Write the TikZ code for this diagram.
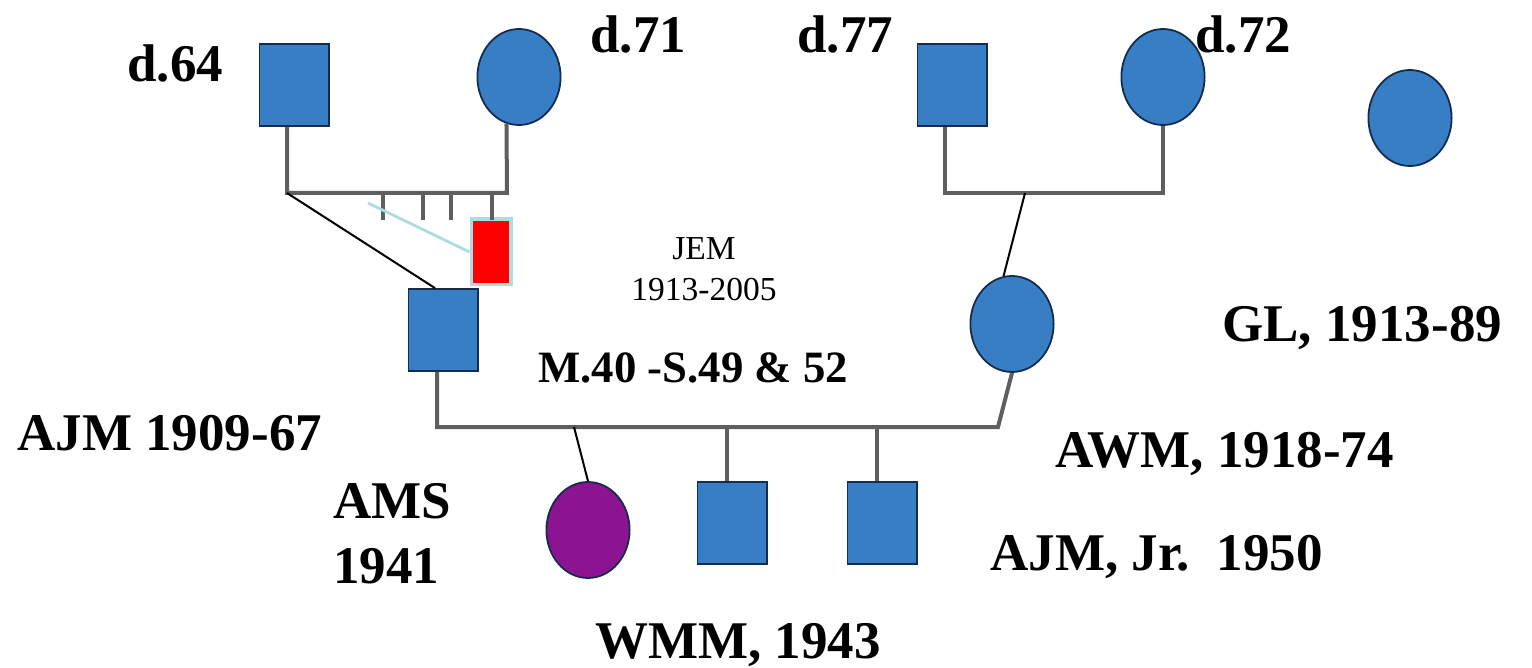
\documentclass[tikz,border=0pt]{standalone}
\usepackage{fontspec}
\setmainfont{Liberation Serif}
\usetikzlibrary{shapes.geometric}
\definecolor{pedblue}{RGB}{55,126,196}
\definecolor{pededge}{RGB}{22,44,78}
\definecolor{pedline}{RGB}{95,95,95}
\definecolor{pedpurple}{RGB}{140,20,145}
\definecolor{pedcyan}{RGB}{170,220,226}

\begin{document}
\begin{tikzpicture}[x=0.5pt,y=-0.5pt,
    male/.style={rectangle,draw=pededge,fill=pedblue,line width=0.9pt,minimum width=34.6pt,minimum height=41pt,inner sep=0pt},
    female/.style={ellipse,draw=pededge,fill=pedblue,line width=0.9pt,minimum width=41.6pt,minimum height=48pt,inner sep=0pt},
    famline/.style={pedline,line width=2pt},
    thinline/.style={black,line width=1pt},
    lbl/.style={font=\bfseries\fontsize{26.5}{30}\selectfont,inner sep=0pt,anchor=base west}]
\useasboundingbox (0,0) rectangle (1532,668);

% grandparents
\node[male] (gfa) at (294,85) {};
\node[female] (gma) at (519,77) {};
\node[male] (gfb) at (952,85) {};
\node[female] (gmb) at (1163,77) {};
\node[female] (gl) at (1410,118) {};

% parents
\node[male] (ajm) at (443,330) {};
\node[female] (awm) at (1012,324) {};
\node[rectangle,draw=pedcyan,fill=red,line width=1.6pt,minimum width=19.9pt,minimum height=32.9pt,inner sep=0pt] (jem) at (491,252) {};

% children
\node[female,fill=pedpurple] (ams) at (588,530) {};
\node[male] (wmm) at (732,523) {};
\node[male] (jr) at (882,523) {};

\coordinate (sibA) at (287,193);
\coordinate (sibAr) at (507,193);
\coordinate (cut) at (368,203);
\coordinate (sibB) at (945,193);
\coordinate (sibBr) at (1163,193);
\coordinate (sibBm) at (1025,193);
\coordinate (mar) at (437,427);
\coordinate (marr) at (998,427);
\coordinate (kid1) at (574,427);
\coordinate (kid2) at (727,427);
\coordinate (kid3) at (877,427);

\draw[famline] (gfa.south -| sibA) -- (sibA) -- (sibAr) -- (gma.-105);
\foreach \tx in {383,423,451,492}
    \draw[famline] (\tx,193) -- (\tx,220);
\draw[pedcyan,line width=1.4pt] (cut) -- (jem.west);
\draw[thinline] (sibA) -- ([xshift=-4pt]ajm.north);

\draw[famline] (gfb.south -| sibB) -- (sibB) -- (sibBr) -- (gmb.south);
\draw[thinline] (sibBm) -- (awm.100);

\draw[famline] (ajm.south -| mar) -- (mar) -- (marr) -- (awm.south);
\draw[thinline] (kid1) -- (ams.north);
\draw[famline] (kid2) -- (kid2 |- wmm.north);
\draw[famline] (kid3) -- (kid3 |- jr.north);

% labels
\node[lbl] (t64) at (127,82) {d.64};
\node[lbl] (t71) at (590,53) {d.71};
\node[lbl] (t77) at (797,53) {d.77};
\node[lbl] (t72) at (1195,53) {d.72};
\node[font=\fontsize{16.75}{20}\selectfont,inner sep=0pt,anchor=base] (tjem) at (704,260) {JEM};
\node[font=\fontsize{16.75}{20}\selectfont,inner sep=0pt,anchor=base] (tjemy) at (704,301) {1913-2005};
\node[lbl,font=\bfseries\fontsize{22.4}{26}\selectfont] (tmar) at (538,383) {M.40 -S.49 \& 52};
\node[lbl] (tgl) at (1222,342) {GL, 1913-89};
\node[lbl] (tajm) at (17,451) {AJM 1909-67};
\node[lbl] (tawm) at (1055,467) {AWM, 1918-74};
\node[lbl] (tams) at (333,518) {AMS};
\node[lbl] (tamsy) at (333,583) {1941};
\node[lbl] (tjr) at (990,570) {AJM, Jr.\ \ 1950};
\node[lbl] (twmm) at (595,658) {WMM, 1943};
\end{tikzpicture}
\end{document}
